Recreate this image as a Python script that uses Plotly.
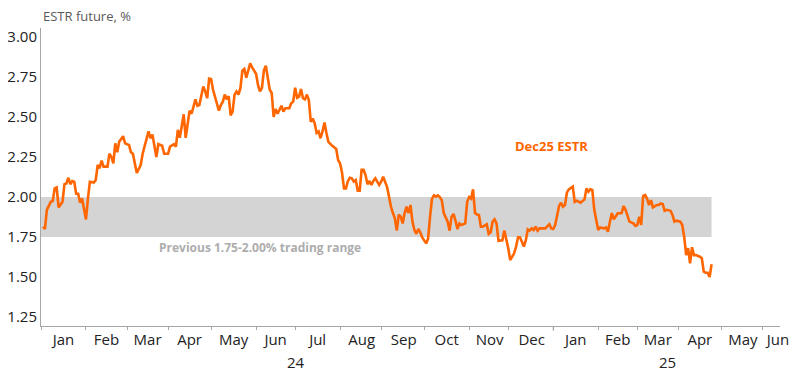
import plotly.graph_objects as go

dates = [
    "2024-01-02", "2024-01-03", "2024-01-04", "2024-01-08", "2024-01-09", "2024-01-10", "2024-01-11", "2024-01-12",
    "2024-01-16", "2024-01-17", "2024-01-18", "2024-01-19", "2024-01-22", "2024-01-23", "2024-01-24", "2024-01-25",
    "2024-01-26", "2024-01-29", "2024-01-30", "2024-01-31", "2024-02-01", "2024-02-02", "2024-02-05", "2024-02-07",
    "2024-02-08", "2024-02-09", "2024-02-12", "2024-02-13", "2024-02-14", "2024-02-16", "2024-02-19", "2024-02-20",
    "2024-02-21", "2024-02-22", "2024-02-23", "2024-02-26", "2024-02-28", "2024-02-29", "2024-03-01", "2024-03-04",
    "2024-03-05", "2024-03-06", "2024-03-08", "2024-03-12", "2024-03-13", "2024-03-15", "2024-03-18", "2024-03-19",
    "2024-03-20", "2024-03-22", "2024-03-25", "2024-03-27", "2024-03-28", "2024-04-01", "2024-04-02", "2024-04-04",
    "2024-04-05", "2024-04-08", "2024-04-09", "2024-04-11", "2024-04-12", "2024-04-16", "2024-04-17", "2024-04-19",
    "2024-04-22", "2024-04-23", "2024-04-25", "2024-04-26", "2024-04-29", "2024-04-30", "2024-05-01", "2024-05-02",
    "2024-05-06", "2024-05-07", "2024-05-08", "2024-05-09", "2024-05-10", "2024-05-13", "2024-05-14", "2024-05-15",
    "2024-05-16", "2024-05-17", "2024-05-20", "2024-05-21", "2024-05-22", "2024-05-23", "2024-05-24", "2024-05-27",
    "2024-05-28", "2024-05-29", "2024-05-30", "2024-06-03", "2024-06-04", "2024-06-05", "2024-06-06", "2024-06-07",
    "2024-06-10", "2024-06-11", "2024-06-12", "2024-06-13", "2024-06-14", "2024-06-17", "2024-06-18", "2024-06-20",
    "2024-06-21", "2024-06-24", "2024-06-26", "2024-06-27", "2024-06-28", "2024-07-01", "2024-07-02", "2024-07-03",
    "2024-07-04", "2024-07-05", "2024-07-08", "2024-07-09", "2024-07-10", "2024-07-11", "2024-07-12", "2024-07-15",
    "2024-07-16", "2024-07-17", "2024-07-18", "2024-07-19", "2024-07-22", "2024-07-23", "2024-07-24", "2024-07-26",
    "2024-07-29", "2024-07-30", "2024-07-31", "2024-08-01", "2024-08-02", "2024-08-05", "2024-08-06", "2024-08-07",
    "2024-08-08", "2024-08-09", "2024-08-12", "2024-08-13", "2024-08-14", "2024-08-15", "2024-08-16", "2024-08-19",
    "2024-08-20", "2024-08-21", "2024-08-22", "2024-08-23", "2024-08-26", "2024-08-27", "2024-08-28", "2024-08-29",
    "2024-08-30", "2024-09-02", "2024-09-04", "2024-09-05", "2024-09-06", "2024-09-09", "2024-09-10", "2024-09-11",
    "2024-09-12", "2024-09-13", "2024-09-16", "2024-09-17", "2024-09-18", "2024-09-19", "2024-09-20", "2024-09-23",
    "2024-09-24", "2024-09-25", "2024-09-26", "2024-09-27", "2024-09-30", "2024-10-02", "2024-10-03", "2024-10-04",
    "2024-10-07", "2024-10-08", "2024-10-09", "2024-10-10", "2024-10-11", "2024-10-14", "2024-10-15", "2024-10-17",
    "2024-10-18", "2024-10-21", "2024-10-22", "2024-10-23", "2024-10-24", "2024-10-25", "2024-10-28", "2024-10-30",
    "2024-10-31", "2024-11-01", "2024-11-04", "2024-11-05", "2024-11-06", "2024-11-07", "2024-11-08", "2024-11-11",
    "2024-11-12", "2024-11-14", "2024-11-15", "2024-11-18", "2024-11-19", "2024-11-20", "2024-11-21", "2024-11-22",
    "2024-11-26", "2024-11-27", "2024-11-28", "2024-11-29", "2024-12-02", "2024-12-04", "2024-12-05", "2024-12-06",
    "2024-12-09", "2024-12-10", "2024-12-11", "2024-12-12", "2024-12-13", "2024-12-16", "2024-12-17", "2024-12-18",
    "2024-12-19", "2024-12-20", "2024-12-23", "2024-12-26", "2024-12-30", "2024-12-31", "2025-01-01", "2025-01-02",
    "2025-01-06", "2025-01-07", "2025-01-08", "2025-01-09", "2025-01-10", "2025-01-13", "2025-01-15", "2025-01-16",
    "2025-01-17", "2025-01-21", "2025-01-22", "2025-01-23", "2025-01-24", "2025-01-27", "2025-01-28", "2025-01-29",
    "2025-01-30", "2025-02-03", "2025-02-04", "2025-02-06", "2025-02-07", "2025-02-10", "2025-02-11", "2025-02-12",
    "2025-02-13", "2025-02-14", "2025-02-17", "2025-02-19", "2025-02-20", "2025-02-21", "2025-02-24", "2025-02-25",
    "2025-02-27", "2025-02-28", "2025-03-03", "2025-03-04", "2025-03-05", "2025-03-06", "2025-03-07", "2025-03-10",
    "2025-03-11", "2025-03-12", "2025-03-13", "2025-03-17", "2025-03-18", "2025-03-19", "2025-03-20", "2025-03-21",
    "2025-03-24", "2025-03-26", "2025-03-27", "2025-03-28", "2025-03-31", "2025-04-02", "2025-04-03", "2025-04-04",
    "2025-04-07", "2025-04-08", "2025-04-09", "2025-04-10", "2025-04-11", "2025-04-14", "2025-04-16", "2025-04-17",
    "2025-04-18", "2025-04-21", "2025-04-22", "2025-04-23", "2025-04-24",
]

estr_dec25 = [
    1.814, 1.80, 1.92, 1.97, 1.975, 2.054, 2.06, 1.935,
    1.97, 2.08, 2.085, 2.12, 2.08, 2.10, 2.095, 2.02,
    2.02, 1.965, 1.99, 1.91, 1.86, 1.99, 2.095, 2.09,
    2.106, 2.20, 2.18, 2.227, 2.19, 2.19, 2.27, 2.25,
    2.21, 2.335, 2.28, 2.345, 2.38, 2.335, 2.33, 2.325,
    2.28, 2.27, 2.15, 2.20, 2.27, 2.367, 2.41, 2.367,
    2.39, 2.25, 2.33, 2.32, 2.27, 2.27, 2.315, 2.33,
    2.315, 2.42, 2.37, 2.517, 2.37, 2.54, 2.52, 2.61,
    2.57, 2.575, 2.69, 2.66, 2.617, 2.74, 2.737, 2.67,
    2.585, 2.54, 2.575, 2.596, 2.64, 2.61, 2.63, 2.51,
    2.533, 2.64, 2.66, 2.64, 2.68, 2.79, 2.80, 2.745,
    2.79, 2.835, 2.81, 2.77, 2.70, 2.66, 2.68, 2.79,
    2.82, 2.75, 2.67, 2.65, 2.50, 2.55, 2.52, 2.57,
    2.533, 2.555, 2.555, 2.585, 2.596, 2.683, 2.62, 2.627,
    2.675, 2.617, 2.61, 2.64, 2.606, 2.47, 2.49, 2.46,
    2.40, 2.41, 2.367, 2.41, 2.465, 2.40, 2.345, 2.32,
    2.31, 2.30, 2.23, 2.21, 2.15, 2.054, 2.054, 2.10,
    2.12, 2.117, 2.096, 2.106, 2.04, 2.04, 2.17, 2.17,
    2.137, 2.08, 2.10, 2.075, 2.10, 2.117, 2.096, 2.075,
    2.096, 2.127, 2.064, 2.00, 1.94, 1.90, 1.867, 1.79,
    1.89, 1.877, 1.835, 1.90, 1.94, 1.90, 1.95, 1.846,
    1.794, 1.77, 1.80, 1.78, 1.748, 1.71, 1.74, 1.877,
    1.99, 2.01, 2.002, 2.01, 2.00, 1.98, 1.90, 1.846,
    1.79, 1.877, 1.894, 1.852, 1.80, 1.835, 1.825, 1.835,
    1.97, 2.00, 1.99, 2.048, 1.90, 1.89, 1.887, 1.815,
    1.815, 1.83, 1.77, 1.78, 1.846, 1.86, 1.835, 1.727,
    1.73, 1.79, 1.74, 1.68, 1.606, 1.648, 1.69, 1.748,
    1.748, 1.72, 1.69, 1.73, 1.798, 1.79, 1.804, 1.794,
    1.815, 1.79, 1.804, 1.804, 1.83, 1.804, 1.80, 1.825,
    1.944, 1.964, 1.94, 1.95, 2.027, 2.048, 2.065, 1.97,
    1.977, 1.964, 1.977, 1.985, 2.054, 2.033, 2.048, 2.044,
    1.92, 1.794, 1.81, 1.804, 1.81, 1.783, 1.846, 1.90,
    1.86, 1.88, 1.898, 1.90, 1.944, 1.92, 1.877, 1.846,
    1.835, 1.82, 1.825, 1.877, 1.825, 2.006, 2.012, 1.99,
    1.95, 1.98, 1.935, 1.95, 1.95, 1.96, 1.956, 1.914,
    1.92, 1.914, 1.888, 1.846, 1.852, 1.846, 1.825, 1.752,
    1.637, 1.68, 1.585, 1.686, 1.637, 1.637, 1.627, 1.617,
    1.533, 1.527, 1.527, 1.50, 1.58,
]

month_label_dates = [
    "2024-01-16 12:00", "2024-02-15 12:00", "2024-03-15 12:00", "2024-04-16", "2024-05-16 12:00",
    "2024-06-17", "2024-07-16 12:00", "2024-08-16", "2024-09-16 12:00", "2024-10-16 12:00",
    "2024-11-15 12:00", "2024-12-17", "2025-01-16 12:00", "2025-02-17", "2025-03-17 12:00",
    "2025-04-16", "2025-05-16", "2025-06-11",
]
month_labels = ["Jan", "Feb", "Mar", "Apr", "May", "Jun", "Jul", "Aug", "Sep", "Oct", "Nov", "Dec",
                "Jan", "Feb", "Mar", "Apr", "May", "Jun"]
year_label_dates = ["2024-07-01 12:00", "2025-03-24 05:00"]
year_labels = ["24", "25"]
y_ticks = [1.25, 1.50, 1.75, 2.00, 2.25, 2.50, 2.75, 3.00]
range_low, range_high = 1.75, 2.00

ORANGE = "#ff6600"
FONT = "Open Sans"

fig = go.Figure()
fig.add_trace(go.Scatter(x=dates, y=estr_dec25, mode="lines",
                         line=dict(color=ORANGE, width=2.6), hoverinfo="skip", showlegend=False))

fig.add_shape(type="rect", xref="x", yref="y", x0="2024-01-01", x1=dates[-1],
              y0=range_low, y1=range_high, fillcolor="#d4d4d4", line=dict(width=0), layer="below")
fig.add_shape(type="line", xref="x", yref="paper", x0="2025-01-01", x1="2025-01-01",
              y0=0, y1=-0.016, line=dict(color="#a6a6a6", width=1))

fig.add_annotation(text="Dec25 ESTR", x="2024-12-31", y=2.32, xref="x", yref="y",
                   showarrow=False, font=dict(family=FONT, size=13, color=ORANGE, weight="bold"))
fig.add_annotation(text="Previous 1.75-2.00% trading range", x="2024-06-04 21:00", y=1.683,
                   xref="x", yref="y", showarrow=False,
                   font=dict(family=FONT, size=12, color="#adadad", weight="bold"))
fig.add_annotation(text="ESTR future, %", x=0, y=1.04, xref="paper", yref="paper",
                   xanchor="left", yanchor="middle", showarrow=False,
                   font=dict(family=FONT, size=13, color="#595959"))
for d, t in zip(year_label_dates, year_labels):
    fig.add_annotation(text=t, x=d, y=-0.121, xref="x", yref="paper", showarrow=False,
                       yanchor="middle", font=dict(family=FONT, size=15, color="#222222"))

# The page body has an 8px default margin, so the figure is 8px smaller than the window.
fig.update_layout(
    width=792, height=376,
    margin=dict(l=33, r=20, t=20, b=58),
    paper_bgcolor="white", plot_bgcolor="white",
    font=dict(family=FONT, size=15, color="#222222"),
    xaxis=dict(
        type="date",
        range=["2024-01-01", "2025-06-12"],
        rangebreaks=[dict(bounds=["sat", "mon"])],
        tickmode="array", tickvals=month_label_dates, ticktext=month_labels,
        ticks="", showgrid=False, zeroline=False, automargin=False,
        showline=True, linecolor="#a6a6a6", linewidth=1,
        tickfont=dict(family=FONT, size=15, color="#222222"),
        minor=dict(tickmode="linear", tick0="2024-01-01", dtick="M1", ticks="outside",
                   ticklen=3, tickcolor="#a6a6a6", showgrid=False),
    ),
    yaxis=dict(
        range=[1.194, 3.056],
        tickmode="array", tickvals=y_ticks, tickformat=".2f",
        ticks="", showgrid=False, zeroline=False, automargin=False,
        showline=True, linecolor="#a6a6a6", linewidth=1,
        tickfont=dict(family=FONT, size=15, color="#222222"),
    ),
)

fig.write_html("out.html")
